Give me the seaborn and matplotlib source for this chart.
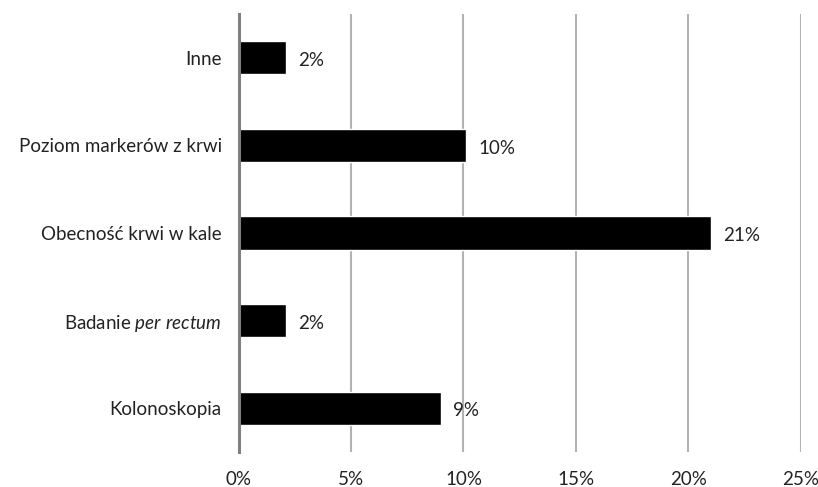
import pandas as pd
import seaborn as sns
import matplotlib.pyplot as plt
from matplotlib.ticker import PercentFormatter

# Dane (w %)
kategorie = ['Inne', 'Poziom markerów z krwi', 'Obecność krwi w kale',
             'Badanie per rectum', 'Kolonoskopia']
wartosci = [2.1, 10.1, 21.0, 2.1, 9.0]
etykiety_y = ['Inne', 'Poziom markerów z krwi', 'Obecność krwi w kale',
              r'Badanie $\it{per\ rectum}$', 'Kolonoskopia']
ticki_x = [0, 5, 10, 15, 20, 25]

df = pd.DataFrame({'kategoria': kategorie, 'wartosc': wartosci})

sns.set_theme(style='white')
plt.rcParams['font.family'] = ['Lato', 'DejaVu Sans']
plt.rcParams['mathtext.fontset'] = 'custom'
plt.rcParams['mathtext.rm'] = 'Lato'
plt.rcParams['mathtext.it'] = 'Lato:italic'

fs = 13.5

fig = plt.figure(figsize=(8.18, 4.87), dpi=100)
ax = fig.add_axes([0.2916, 0.0719, 0.6874, 0.8994])

sns.barplot(data=df, x='wartosc', y='kategoria', color='black',
            width=0.38, orient='h', ax=ax, zorder=3)

# pionowe linie siatki
ax.grid(True, axis='x', color='#b3b3b3', linewidth=1.5, zorder=0)
ax.grid(False, axis='y')

for p, v in zip(ax.patches, wartosci):
    ax.annotate(f'{round(v)}%', (p.get_width(), p.get_y() + p.get_height() / 2),
                xytext=(9, -2), textcoords='offset points',
                ha='left', va='center', fontsize=fs, color='#222222')

ax.set_xlim(0, 25)
ax.set_ylim(4.5, -0.5)
ax.set_xticks(ticki_x)
ax.xaxis.set_major_formatter(PercentFormatter(decimals=0))
ax.set_yticks(range(len(etykiety_y)))
ax.set_yticklabels(etykiety_y)
ax.tick_params(axis='x', length=0, pad=14, labelsize=fs, labelcolor='#222222')
ax.tick_params(axis='y', length=0, pad=12, labelsize=fs, labelcolor='#222222')
ax.set_xlabel('')
ax.set_ylabel('')

for s in ['top', 'right', 'bottom']:
    ax.spines[s].set_visible(False)
ax.spines['left'].set_color('#808080')
ax.spines['left'].set_linewidth(2.2)
ax.spines['left'].set_zorder(4)

plt.savefig('out.png', dpi=100)
